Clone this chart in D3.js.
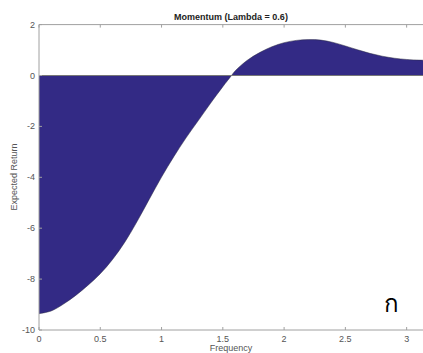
<!DOCTYPE html>
<html><head><meta charset="utf-8">
<script src="https://cdn.jsdelivr.net/npm/d3@7"></script>
<style>body{margin:0;background:#fff}svg{display:block}text{font-family:"Liberation Sans",Arial,Helvetica,sans-serif}</style>
</head><body><svg id="c" width="423" height="353"></svg>
<script>
const frequency = [0, 0.1, 0.2, 0.3, 0.4, 0.5, 0.6, 0.7, 0.8, 0.9, 1.0, 1.1, 1.2, 1.3, 1.4, 1.5, 1.5708, 1.6, 1.7, 1.8, 1.9, 2.0, 2.1, 2.2, 2.3, 2.4, 2.5, 2.6, 2.7, 2.8, 2.9, 3.0, 3.1, 3.1416];
const expectedReturn = [-9.36, -9.25, -8.98, -8.64, -8.24, -7.79, -7.23, -6.55, -5.74, -4.86, -3.99, -3.19, -2.45, -1.77, -1.09, -0.44, 0, 0.18, 0.6, 0.9, 1.13, 1.29, 1.38, 1.41, 1.39, 1.3, 1.16, 1.01, 0.87, 0.76, 0.68, 0.63, 0.605, 0.6];
const xTicks = [0, 0.5, 1, 1.5, 2, 2.5, 3];
const yTicks = [-10, -8, -6, -4, -2, 0, 2];
const title = "Momentum (Lambda = 0.6)";
const xLabel = "Frequency";
const yLabel = "Expected Return";
const marker = "ก";

const svg = d3.select("#c");
const L = 39, R = 424, T = 24.6, B = 330;
const x = d3.scaleLinear().domain([0, Math.PI]).range([L, R]);
const y = d3.scaleLinear().domain([-10, 2]).range([B, T]);
const data = frequency.map((f, i) => ({f, v: expectedReturn[i]}));

svg.append("path").datum(data)
  .attr("d", d3.area().x(d => x(d.f)).y0(y(0)).y1(d => y(d.v)).curve(d3.curveCatmullRom))
  .attr("fill", "#332a85");
svg.append("path").datum(data)
  .attr("d", d3.line().x(d => x(d.f)).y(d => y(d.v)).curve(d3.curveCatmullRom))
  .attr("fill", "none").attr("stroke", "#2a2a40").attr("stroke-width", 0.5);
// baseline
svg.append("line").attr("x1", L).attr("x2", R).attr("y1", y(0)).attr("y2", y(0))
  .attr("stroke", "#777").attr("stroke-width", 1);

const axC = "#a0a0a0", lblC = "#555";
const g = svg.append("g");
g.append("line").attr("x1", L).attr("x2", R).attr("y1", B).attr("y2", B).attr("stroke", axC);
g.append("line").attr("x1", L).attr("x2", R).attr("y1", T).attr("y2", T).attr("stroke", axC);
g.append("line").attr("x1", L).attr("x2", L).attr("y1", T).attr("y2", B).attr("stroke", axC);
xTicks.forEach(t => {
  g.append("line").attr("x1", x(t)).attr("x2", x(t)).attr("y1", B).attr("y2", B - 3).attr("stroke", axC);
  g.append("line").attr("x1", x(t)).attr("x2", x(t)).attr("y1", T).attr("y2", T + 3).attr("stroke", axC);
  g.append("text").attr("x", x(t)).attr("y", 342).attr("text-anchor", "middle")
    .attr("font-size", 9).attr("fill", lblC).text(t);
});
yTicks.forEach(t => {
  g.append("line").attr("x1", L).attr("x2", L + 3).attr("y1", y(t)).attr("y2", y(t)).attr("stroke", axC);
  g.append("text").attr("x", 35).attr("y", y(t) + 3).attr("text-anchor", "end")
    .attr("font-size", 9).attr("fill", lblC).text(t);
});
svg.append("text").attr("x", 231).attr("y", 20).attr("text-anchor", "middle")
  .attr("font-size", 9).attr("font-weight", "bold").attr("fill", "#222").text(title);
svg.append("text").attr("x", 231).attr("y", 351).attr("text-anchor", "middle")
  .attr("font-size", 9).attr("fill", lblC).text(xLabel);
svg.append("text").attr("transform", "translate(17,177) rotate(-90)").attr("text-anchor", "middle")
  .attr("font-size", 9).attr("fill", lblC).text(yLabel);
svg.append("text").attr("x", 391).attr("y", 312).attr("text-anchor", "middle")
  .attr("font-size", 24).attr("fill", "#000").style("font-family", "sans-serif").text(marker);
</script></body></html>
